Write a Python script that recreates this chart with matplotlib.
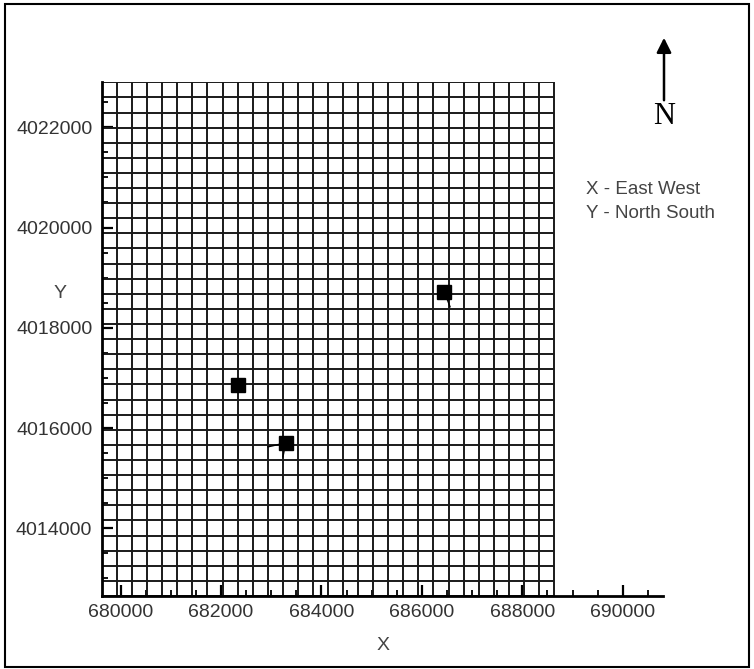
import numpy as np
import matplotlib.pyplot as plt
from matplotlib.patches import Rectangle, FancyArrowPatch

# model grid (UTM metres)
grid_x0 = 679630
grid_y0 = 4012650
cell_x = 300
cell_y = 301.4
n_cols = 30
n_rows = 34

# well locations
well_x = [682331, 683287, 686446]
well_y = [4016862, 4015705, 4018719]

# short well traces (start x, start y, end x, end y)
trace_x0 = [683287, 683287, 686446]
trace_y0 = [4015705, 4015705, 4018719]
trace_x1 = [682934, 683233, 686560]
trace_y1 = [4015625, 4015425, 4018419]

x_major = [680000, 682000, 684000, 686000, 688000, 690000]
y_major = [4014000, 4016000, 4018000, 4020000, 4022000]

x_edges = grid_x0 + cell_x * np.arange(n_cols + 1)
y_edges = grid_y0 + cell_y * np.arange(n_rows + 1)

plt.rcParams['font.family'] = ['Liberation Sans', 'DejaVu Sans']
W, H = 754, 669
fig = plt.figure(figsize=(W / 100, H / 100), dpi=100)
ax = fig.add_axes([102 / W, 1 - 596 / H, (663 - 102) / W, (596 - 82.3) / H])

ax.vlines(x_edges, y_edges[0], y_edges[-1], color='#1a1a1a', lw=1.4)
ax.hlines(y_edges, x_edges[0], x_edges[-1], color='#1a1a1a', lw=1.4)

for i in range(len(trace_x0)):
    ax.plot([trace_x0[i], trace_x1[i]], [trace_y0[i], trace_y1[i]], color='black', lw=1)
ax.plot(well_x, well_y, 's', color='black', markersize=9.5, zorder=5)

ax.set_xlim(x_edges[0], 690800)
ax.set_ylim(y_edges[0], y_edges[-1])

ax.set_xticks(x_major)
ax.set_yticks(y_major)
ax.set_xticks(np.arange(680000, 691000, 500), minor=True)
ax.set_yticks(np.arange(4013000, 4023000, 500), minor=True)
ax.set_xticklabels([str(v) for v in x_major])
ax.set_yticklabels([str(v) for v in y_major])
ax.tick_params(which='major', direction='in', length=8, width=1.6, labelsize=14,
               labelcolor='#333333', pad=6)
ax.tick_params(which='minor', direction='in', length=4.5, width=1.3)
ax.tick_params(axis='y', which='major', pad=7)

for s in ['top', 'right']:
    ax.spines[s].set_visible(False)
for s in ['left', 'bottom']:
    ax.spines[s].set_linewidth(2)

fig.text(383 / W, 1 - 645 / H, 'X', fontsize=14, color='#444444', ha='center', va='center')
fig.text(60 / W, 1 - 293 / H, 'Y', fontsize=14, color='#444444', ha='center', va='center')

fig.text(586 / W, 1 - 190 / H, 'X - East West', fontsize=13.5, color='#444444', va='center')
fig.text(586 / W, 1 - 213 / H, 'Y - North South', fontsize=13.5, color='#444444', va='center')

# north arrow
fig.add_artist(FancyArrowPatch((664 / W, 1 - 103 / H), (664 / W, 1 - 35 / H),
                               transform=fig.transFigure, arrowstyle='-|>',
                               mutation_scale=22, lw=1.8, color='black'))
fig.text(664 / W, 1 - 117 / H, 'N', fontsize=22, family='Liberation Serif',
         ha='center', va='center')

# border round the figure
fig.add_artist(Rectangle((5 / W, 1 - 667 / H), (749 - 5) / W, (667 - 4) / H,
                         transform=fig.transFigure, fill=False, lw=1.5, color='black'))

fig.savefig('out.png', dpi=100)
